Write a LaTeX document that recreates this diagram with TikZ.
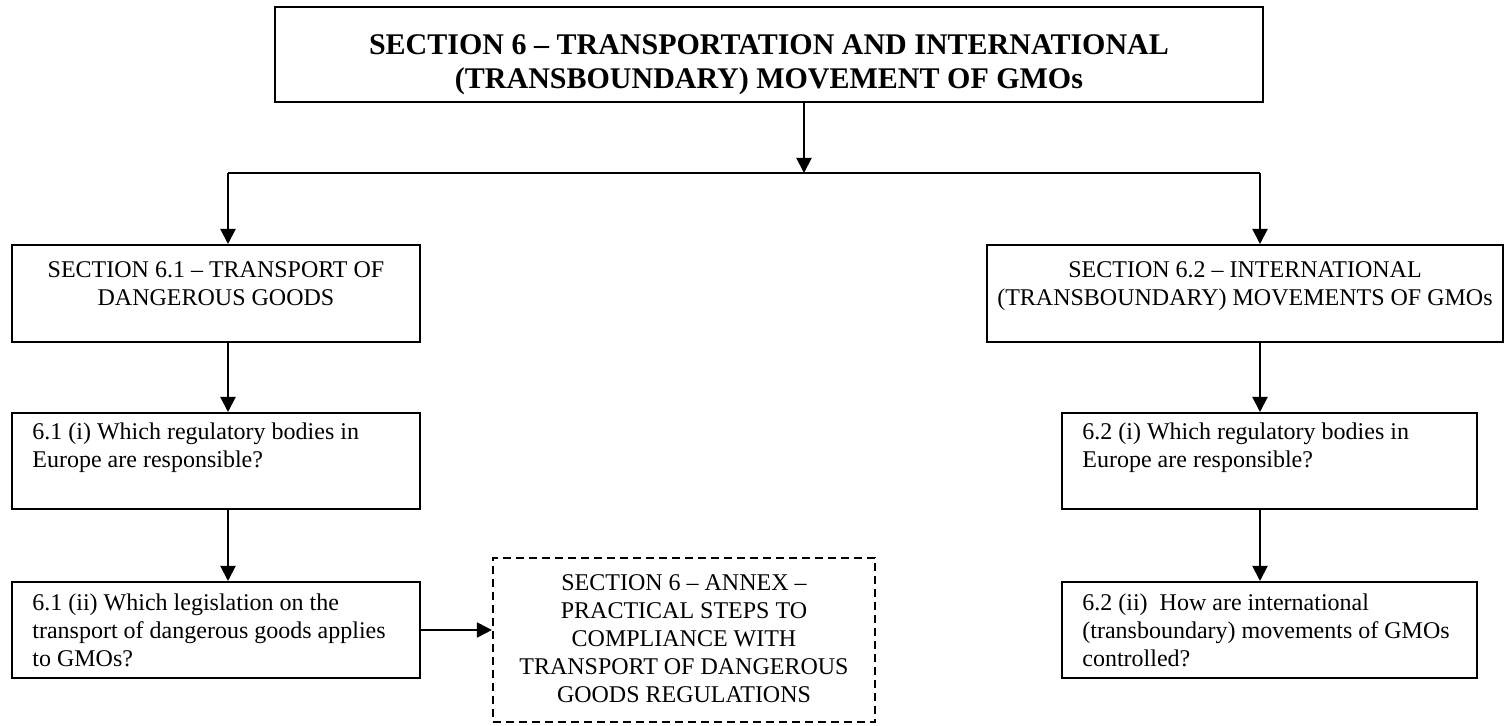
\documentclass[tikz,border=0pt]{standalone}
\usepackage{fontspec}
\setmainfont{Liberation Serif}
\usetikzlibrary{arrows.meta}

\newcommand{\bodyfont}{\fontsize{12pt}{14pt}\selectfont}
\newcommand{\headfont}{\fontsize{15pt}{17pt}\selectfont\bfseries}

\begin{document}
\begin{tikzpicture}[x=0.5pt,y=-0.5pt,
  box/.style={draw, line width=1pt, inner sep=0pt, rectangle},
  annexbox/.style={draw, line width=1.1pt, dash pattern=on 4pt off 2.5pt, inner sep=0pt, rectangle},
  arr/.style={line width=1pt, -{Triangle[length=7.5pt,width=7.5pt]}},
  link/.style={line width=1pt},
  ctext/.style={inner sep=0pt, anchor=north, align=center, font=\bodyfont},
  ltext/.style={inner sep=0pt, anchor=north west, align=left, font=\bodyfont},
  htext/.style={inner sep=0pt, anchor=north, align=center, font=\headfont}]

\useasboundingbox (0,0) rectangle (1506,726);

% boxes
\node[box, minimum width=494pt, minimum height=47.5pt] (title) at (769,54.5) {};
\node[box, minimum width=204pt, minimum height=48.5pt] (s61)   at (216,293.5) {};
\node[box, minimum width=258pt, minimum height=48.5pt] (s62)   at (1245,293.5) {};
\node[box, minimum width=204pt, minimum height=48pt]   (q61i)  at (216,461) {};
\node[box, minimum width=204pt, minimum height=48pt]   (q61ii) at (216,630) {};
\node[box, minimum width=207.5pt, minimum height=48pt] (q62i)  at (1269.5,461) {};
\node[box, minimum width=207.5pt, minimum height=48pt] (q62ii) at (1269.5,630) {};
\node[annexbox, minimum width=191pt, minimum height=82pt] (annex) at (684,640) {};

% texts
\node[htext] (titletxt) at (769,30.2)
  {\strut SECTION 6 – TRANSPORTATION AND INTERNATIONAL\\\strut(TRANSBOUNDARY) MOVEMENT OF GMOs};
\node[ctext] (s61txt) at (216,257.9)
  {\strut SECTION 6.1 – TRANSPORT OF\\\strut DANGEROUS GOODS};
\node[ctext] (s62txt) at (1245,257.9)
  {\strut SECTION 6.2 – INTERNATIONAL\\\strut(TRANSBOUNDARY) MOVEMENTS OF GMOs};
\node[ltext] (q61itxt) at (32,419.4)
  {\strut 6.1 (i) Which regulatory bodies in\\\strut Europe are responsible?};
\node[ltext] (q61iitxt) at (32,590.4)
  {\strut 6.1 (ii) Which legislation on the\\\strut transport of dangerous goods applies\\\strut to GMOs?};
\node[ltext] (q62itxt) at (1082,419.4)
  {\strut 6.2 (i) Which regulatory bodies in\\\strut Europe are responsible?};
\node[ltext] (q62iitxt) at (1082,590.4)
  {\strut 6.2 (ii)\ \ How are international\\\strut(transboundary) movements of GMOs\\\strut controlled?};
\node[ctext] (annextxt) at (684,570.4)
  {\strut SECTION 6 – ANNEX –\\\strut PRACTICAL STEPS TO\\\strut COMPLIANCE WITH\\\strut TRANSPORT OF DANGEROUS\\\strut GOODS REGULATIONS};

% connectors
\coordinate (drop) at (804,102);
\coordinate (hubL) at (228,173);
\coordinate (hubR) at (1260,173);
\draw[link] (hubL) -- (hubR);
\draw[arr] (drop) -- (drop |- hubL);
\draw[arr] (hubL) -- (hubL |- s61.north);
\draw[arr] (hubR) -- (hubR |- s62.north);
\draw[arr] (hubL |- s61.south) -- (hubL |- q61i.north);
\draw[arr] (hubL |- q61i.south) -- (hubL |- q61ii.north);
\draw[arr] (hubR |- s62.south) -- (hubR |- q62i.north);
\draw[arr] (hubR |- q62i.south) -- (hubR |- q62ii.north);
\draw[arr] (q61ii.east) -- (q61ii.east -| annex.west);
\end{tikzpicture}
\end{document}
